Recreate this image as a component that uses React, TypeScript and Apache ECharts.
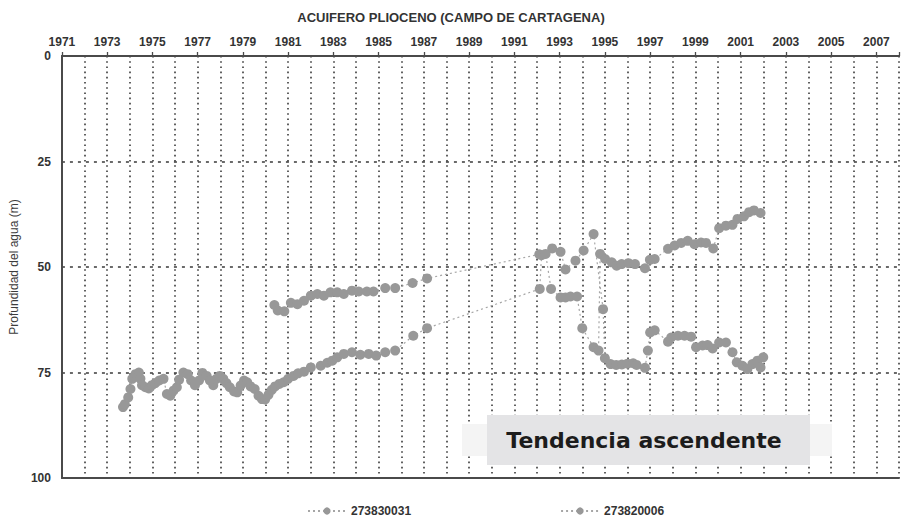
import React, { useEffect, useRef } from "react";
import * as echarts from "echarts";

const chartTitle = "ACUIFERO PLIOCENO (CAMPO DE CARTAGENA)";
const yAxisTitle = "Profundidad del agua (m)";
const seriesNames = ["273830031", "273820006"];
const annotationText = "Tendencia ascendente";

// Series 273830031 (starts 1973 on the deeper path)
const seriesAYears = [
  1973.70, 1973.78, 1973.93, 1974.03, 1974.11, 1974.25, 1974.40, 1974.47, 1974.54, 1974.69,
  1974.84, 1974.98, 1975.13, 1975.30, 1975.49, 1975.64, 1975.79, 1975.93, 1976.08, 1976.18,
  1976.37, 1976.56, 1976.71, 1976.88, 1977.06, 1977.21, 1977.40, 1977.54, 1977.69, 1977.83,
  1977.98, 1978.13, 1978.27, 1978.42, 1978.61, 1978.75, 1978.90, 1979.05, 1979.19, 1979.34,
  1979.52, 1979.69, 1979.84, 1979.98, 1980.13, 1980.28, 1980.42, 1980.61, 1980.80, 1981.00,
  1981.24, 1981.44, 1981.70, 1982.00, 1982.44, 1982.73, 1982.95, 1983.17, 1983.46, 1983.82,
  1984.19, 1984.56, 1984.89, 1985.29, 1985.73, 1986.53, 1987.14, 1992.12, 1992.20, 1992.67,
  1993.04, 1993.26, 1993.70, 1994.06, 1994.50, 1994.92, 1995.00, 1995.25, 1995.50, 1995.75,
  1996.00, 1996.25, 1996.40, 1996.77, 1996.90, 1997.00, 1997.20, 1997.79, 1997.93, 1998.23,
  1998.52, 1998.81, 1999.03, 1999.32, 1999.54, 1999.76, 2000.05, 2000.35, 2000.64, 2000.83,
  2001.08, 2001.30, 2001.52, 2001.74, 2001.88, 2002.00,
];
const seriesADepth = [
  83.2, 82.5, 80.9, 78.9, 76.5, 75.4, 75.0, 76.5, 78.0, 78.5,
  78.8, 78.0, 77.5, 76.9, 76.5, 80.1, 80.5, 79.3, 78.5, 76.7,
  75.0, 75.4, 76.9, 78.0, 76.9, 75.1, 75.8, 76.9, 78.0, 76.5,
  75.8, 76.5, 77.5, 78.5, 79.5, 79.7, 78.1, 76.9, 77.3, 78.3,
  78.9, 80.5, 81.3, 81.4, 80.3, 79.1, 78.3, 77.7, 77.3, 76.5,
  75.8, 75.2, 74.8, 73.8, 73.4, 72.7, 72.2, 71.4, 70.6, 70.2,
  70.8, 70.6, 71.0, 70.2, 69.8, 66.3, 64.5, 55.2, 47.2, 45.6,
  46.4, 50.6, 48.5, 46.1, 42.2, 60.0, 71.6, 73.0, 73.2, 73.1,
  72.9, 72.8, 73.2, 73.9, 69.8, 65.5, 65.0, 67.7, 66.7, 66.3,
  66.3, 66.5, 69.0, 68.6, 68.5, 69.3, 67.9, 67.9, 70.2, 72.6,
  73.4, 74.2, 73.0, 72.2, 73.8, 71.4,
];

// Series 273820006 (starts 1980 on the shallower path)
const seriesBYears = [
  1980.39, 1980.54, 1980.83, 1981.12, 1981.41, 1981.70, 1982.00, 1982.29, 1982.58, 1982.87,
  1983.17, 1983.46, 1983.82, 1984.12, 1984.48, 1984.77, 1985.29, 1985.73, 1986.50, 1987.14,
  1992.10, 1992.38, 1992.62, 1993.04, 1993.26, 1993.48, 1993.77, 1994.00, 1994.50, 1994.72,
  1994.79, 1995.01, 1995.30, 1995.52, 1995.74, 1996.04, 1996.33, 1996.77, 1996.99, 1997.20,
  1997.79, 1998.08, 1998.37, 1998.66, 1998.96, 1999.25, 1999.47, 1999.79, 2000.05, 2000.35,
  2000.64, 2000.86, 2001.15, 2001.37, 2001.59, 2001.88,
];
const seriesBDepth = [
  59.0, 60.3, 60.5, 58.5, 58.8, 58.0, 56.8, 56.4, 56.8, 56.0,
  56.0, 56.4, 55.6, 55.8, 55.8, 55.8, 55.0, 55.0, 53.8, 52.7,
  47.0, 46.9, 55.2, 57.2, 57.2, 57.0, 57.0, 64.5, 69.0, 69.8,
  46.9, 48.1, 48.9, 49.7, 49.3, 49.1, 49.3, 50.3, 48.3, 48.1,
  45.7, 44.9, 44.3, 43.8, 44.6, 44.2, 44.3, 45.6, 40.8, 40.2,
  40.0, 38.6, 38.0, 37.0, 36.6, 37.2,
];

const FONT = "'Liberation Sans', Arial, sans-serif";

export default function App() {
  const ref = useRef<HTMLDivElement>(null);
  useEffect(() => {
    const chart = echarts.init(ref.current!, null, { renderer: "svg" });
    const pair = (xs: number[], ys: number[]) => xs.map((x, i) => [x, ys[i]]);
    const vGridStyle = { color: "#3a3a3a", width: 1.6, type: [1.6, 3.6] as any };
    const seriesCommon = {
      type: "line" as const,
      xAxisIndex: 0,
      yAxisIndex: 0,
      symbol: "circle",
      symbolSize: 10,
      itemStyle: { color: "#989898" },
      lineStyle: { color: "#a6a6a6", width: 1.2, type: [2, 3] as any },
    };
    const frame = { show: true, lineStyle: { color: "#4a4a4a", width: 2 } };
    chart.setOption({
      animation: false,
      backgroundColor: "#ffffff",
      title: {
        text: chartTitle,
        left: "center",
        top: 6,
        textStyle: { fontFamily: FONT, fontWeight: "bold", fontSize: 13, color: "#333" },
      },
      grid: { left: 59, right: 0, top: 56, bottom: 39 },
      legend: {
        left: 302,
        top: 500,
        itemWidth: 38,
        itemHeight: 9,
        itemGap: 149,
        data: seriesNames,
        textStyle: { fontFamily: FONT, fontWeight: "bold", fontSize: 12, color: "#333" },
      },
      xAxis: [
        {
          type: "value",
          position: "top",
          min: 1971,
          max: 2008,
          interval: 2,
          axisLine: frame,
          axisTick: { show: true, length: 4, lineStyle: { color: "#4a4a4a", width: 1.3 } },
          axisLabel: {
            formatter: (v: number) => (Math.round(v) % 2 === 1 && v <= 2007 ? String(Math.round(v)) : ""),
            fontFamily: FONT,
            fontWeight: "bold",
            fontSize: 12,
            color: "#333",
            margin: 8,
          },
          splitLine: { show: true, lineStyle: vGridStyle },
          minorTick: { show: false, splitNumber: 2 },
          minorSplitLine: { show: true, lineStyle: vGridStyle },
        },
        {
          type: "value",
          position: "bottom",
          min: 1971,
          max: 2008,
          axisLine: frame,
          axisTick: { show: false },
          axisLabel: { show: false },
          splitLine: { show: false },
        },
      ],
      yAxis: {
        type: "value",
        inverse: true,
        min: 0,
        max: 100,
        interval: 25,
        name: yAxisTitle,
        nameLocation: "middle",
        nameGap: 27,
        nameTextStyle: { fontFamily: FONT, fontSize: 12, color: "#3c3c3c" },
        axisLine: frame,
        axisTick: { show: false },
        axisLabel: { fontFamily: FONT, fontWeight: "bold", fontSize: 12, color: "#333", margin: 11 },
        splitLine: { show: true, lineStyle: { color: "#3a3a3a", width: 1.6, type: [3, 5] } },
      },
      series: [
        { ...seriesCommon, name: seriesNames[0], data: pair(seriesAYears, seriesADepth) },
        { ...seriesCommon, name: seriesNames[1], data: pair(seriesBYears, seriesBDepth) },
      ],
      graphic: [
        { type: "rect", shape: { x: 462, y: 424, width: 370, height: 32 }, style: { fill: "#f4f4f4" }, z: 10 },
        { type: "rect", shape: { x: 487, y: 415, width: 323, height: 50 }, style: { fill: "#e4e4e6" }, z: 11 },
        {
          type: "text",
          x: 644,
          y: 440,
          z: 12,
          style: {
            text: annotationText,
            fontFamily: "'DejaVu Sans', sans-serif",
            fontWeight: "bold",
            fontSize: 22,
            fill: "#1c1c1c",
            align: "center",
            verticalAlign: "middle",
            textAlign: "center",
            textVerticalAlign: "middle",
          },
        },
      ],
    });
    return () => chart.dispose();
  }, []);
  return (
    <div
      ref={ref}
      style={{ position: "absolute", left: 0, top: 0, width: 902, height: 517, background: "#fff" }}
    />
  );
}
